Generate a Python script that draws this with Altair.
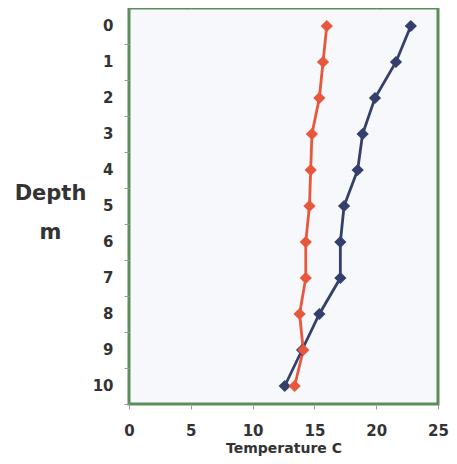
import altair as alt
import pandas as pd

depth = [0, 1, 2, 3, 4, 5, 6, 7, 8, 9, 10]
temp_blue = [22.8, 21.6, 19.9, 18.9, 18.5, 17.4, 17.1, 17.1, 15.4, 14.0, 12.6]
temp_orange = [16.0, 15.7, 15.4, 14.8, 14.7, 14.6, 14.3, 14.3, 13.8, 14.1, 13.4]
series_names = ["Site A", "Site B"]
series_colors = ["#34406b", "#e8573c"]

rows = []
for d, t in zip(depth, temp_blue):
    rows.append({"depth": d, "temp": t, "series": series_names[0]})
for d, t in zip(depth, temp_orange):
    rows.append({"depth": d, "temp": t, "series": series_names[1]})
df = pd.DataFrame(rows)

FONT = "DejaVu Sans"
TXT = "#333333"

xscale = alt.Scale(domain=[0, 25], nice=False, zero=False)
yscale = alt.Scale(domain=[-0.5, 10.5], reverse=True, nice=False, zero=False)
color = alt.Color("series:N", scale=alt.Scale(domain=series_names, range=series_colors), legend=None)

yaxis = alt.Axis(
    values=depth, domain=False, grid=False, tickSize=5, tickColor="#999999",
    tickOffset=18, labelOffset=-19, labelPadding=11,
    labelFont=FONT, labelFontSize=15, labelFontWeight="bold", labelColor=TXT,
    title=["Depth", "m"], titleAngle=0, titleX=-79, titleY=185, titleAlign="center",
    titleBaseline="middle", titleFont=FONT, titleFontSize=21, titleFontWeight="bold",
    titleColor=TXT, titleLineHeight=39,
)

base = alt.Chart(df).encode(
    y=alt.Y("depth:Q", scale=yscale, axis=yaxis),
    color=color,
    order=alt.Order("depth:Q"),
)

lines = base.mark_line(strokeWidth=2.8).encode(
    x=alt.X("temp:Q", scale=xscale, axis=alt.Axis(
        values=[0, 5, 10, 15, 20, 25], orient="bottom", domain=False, grid=False,
        tickSize=5, tickColor="#999999", labelPadding=14, labelFlush=False,
        labelFont=FONT, labelFontSize=15, labelFontWeight="bold", labelColor=TXT,
        title="Temperature C", titleFont=FONT, titleFontSize=14, titleFontWeight="bold",
        titleColor=TXT, titlePadding=3,
    )),
)

points = base.mark_point(shape="diamond", filled=True, size=150, opacity=1).encode(
    x=alt.X("temp:Q", scale=xscale, axis=alt.Axis(
        values=[0, 5, 10, 15, 20, 25], orient="top", domain=False, grid=False,
        labels=False, tickSize=4, tickColor="#999999", title=None,
    )),
)

chart = alt.layer(lines, points).resolve_axis(x="independent").properties(
    width=309, height=396,
    autosize=alt.AutoSizeParams(type="none"),
    padding={"left": 121, "top": 0, "right": 11, "bottom": 52},
    background="white",
).configure_view(
    fill="#f7f8fb", stroke="#5b8c5a", strokeWidth=3,
)

chart.save("out.html", embed_options={"renderer": "svg", "actions": False})
